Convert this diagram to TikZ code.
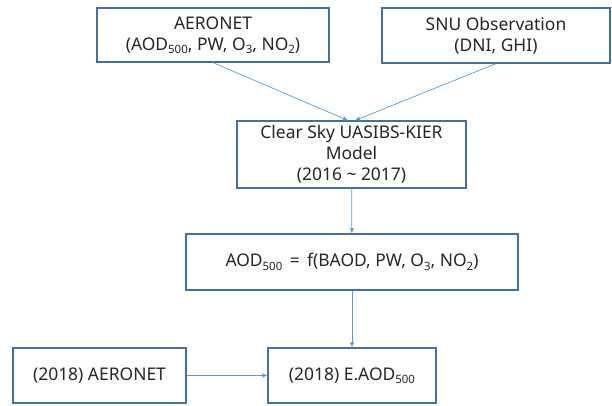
\documentclass[tikz,border=0pt]{standalone}
\usepackage{fontspec}
\setmainfont{Noto Sans}
\usetikzlibrary{arrows.meta}
\definecolor{boxline}{HTML}{41719C}
\definecolor{flowline}{HTML}{5B9BD5}
\definecolor{txt}{HTML}{262626}
\newcommand{\subtxt}[1]{\raisebox{-0.35ex}{\fontsize{11.5}{11.5}\selectfont #1}}
\tikzset{
  stepbox/.style={draw=boxline, line width=1.2pt, fill=white, text=txt, align=center,
    inner sep=2pt, font=\fontsize{17.5}{21}\selectfont},
  flow/.style={draw=flowline, line width=0.7pt, -{Latex[length=5pt,width=4.5pt]}}
}
\begin{document}
\begin{tikzpicture}[x=1bp,y=-1bp]
	\useasboundingbox (0,0) rectangle (612,405);
	% input data
	\node[stepbox, minimum width=232bp, minimum height=54bp] (AER) at (213,35) {AERONET\\(AOD\subtxt{500}, PW, O\subtxt{3}, NO\subtxt{2})};
	\node[stepbox, minimum width=228bp, minimum height=55bp] (SNU) at (496,35.5) {SNU Observation\\(DNI, GHI)};
	% model
	\node[stepbox, minimum width=229bp, minimum height=67bp] (MOD) at (351.5,154.5) {Clear Sky UASIBS-KIER\\Model\\(2016 \textasciitilde{} 2017)};
	\node[stepbox, minimum width=332bp, minimum height=56bp] (AOD) at (352,262) {AOD\subtxt{500} \,=\, f(BAOD, PW, O\subtxt{3}, NO\subtxt{2})};
	% validation
	\node[stepbox, minimum width=173bp, minimum height=55bp] (OBS) at (99.5,375.5) {(2018) AERONET};
	\node[stepbox, minimum width=168bp, minimum height=55bp] (EST) at (352,375.5) {(2018) E.AOD\subtxt{500}};

	\draw[flow] (AER.south) -- (MOD.96);
	\draw[flow] (SNU.south) -- (MOD.84);
	\draw[flow] (MOD) -- (AOD);
	\draw[flow] (AOD) -- (EST);
	\draw[flow] (OBS) -- (EST);
\end{tikzpicture}
\end{document}
